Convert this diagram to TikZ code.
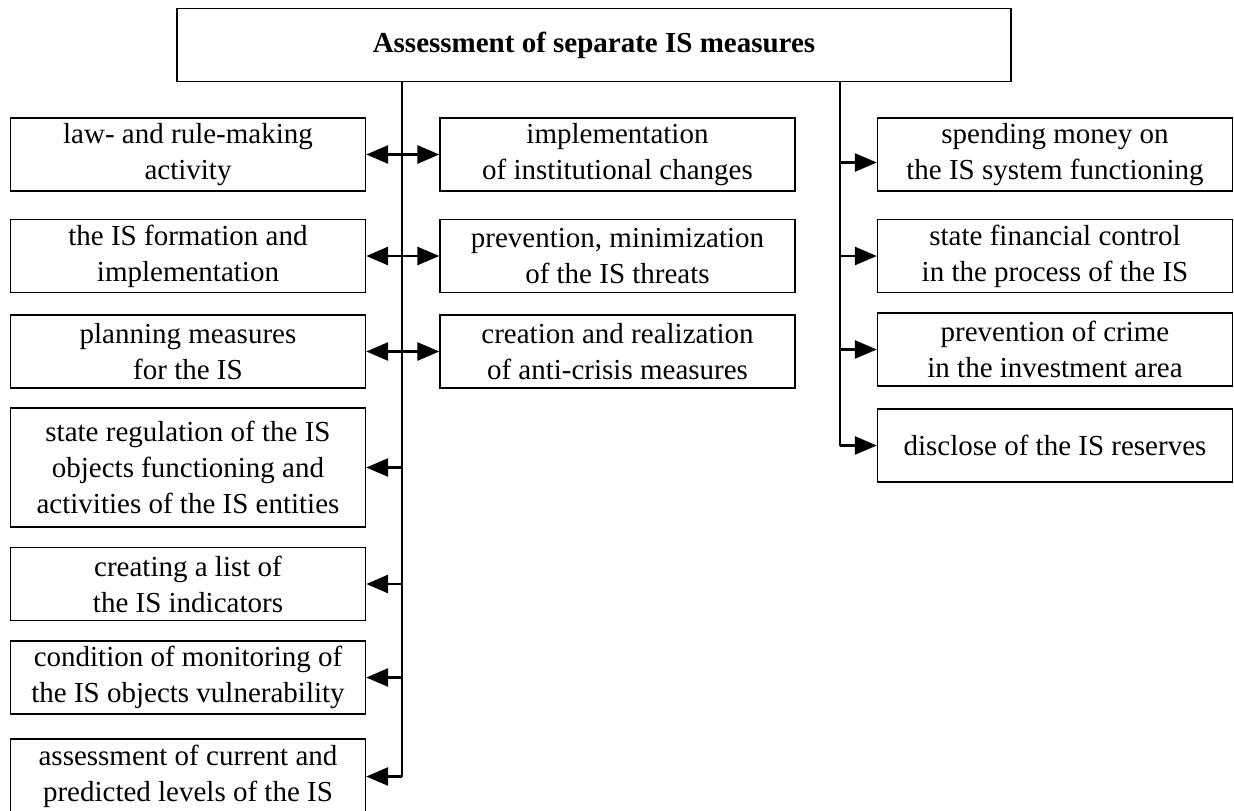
\documentclass[tikz,border=0pt]{standalone}
\usepackage{fontspec}
\setmainfont{Liberation Serif}
\usepackage{tikz}
\usetikzlibrary{arrows.meta}

\begin{document}
\begin{tikzpicture}[x=1pt, y=-1pt,
        box/.style={draw, line width=1.4pt, align=center, inner sep=0pt,
                minimum width=355pt, minimum height=73pt,
                font=\fontsize{29}{36}\selectfont},
        trunk/.style={line width=2.8pt},
        tip/.style={line width=2.8pt, -{Triangle[length=22pt, width=18pt]}},
        tips/.style={line width=2.8pt, {Triangle[length=22pt, width=18pt]}-{Triangle[length=22pt, width=18pt]}}]
                                \useasboundingbox (0, 0) rectangle (1234, 811);

                                \node (top) at (594, 45) [box, minimum width=834pt, font=\fontsize{29}{36}\selectfont\bfseries] {Assessment of separate IS measures};

                                \node (l1) at (188, 154.5) [box] {law- and rule-making\\activity};
                                \node (l2) at (188, 256) [box] {the IS formation and\\implementation};
                                \node (l3) at (188, 351.5) [box] {planning measures\\for the IS};
                                \node (l4) at (188, 467.5) [box, minimum height=119pt] {state regulation of the IS\\objects functioning and\\activities of the IS entities};
                                \node (l5) at (188, 584) [box] {creating a list of\\the IS indicators};
                                \node (l6) at (188, 677.5) [box] {condition of monitoring of\\the IS objects vulnerability};
                                \node (l7) at (188, 776.5) [box, minimum height=75pt] {assessment of current and\\predicted levels of the IS};

                                \node (c1) at (617.5, 154.5) [box] {implementation\\of institutional changes};
                                \node (c2) at (617.5, 256) [box] {prevention, minimization\\of the IS threats};
                                \node (c3) at (617.5, 351.5) [box] {creation and realization\\of anti-crisis measures};

                                \node (r1) at (1055, 154.5) [box] {spending money on\\the IS system functioning};
                                \node (r2) at (1055, 256) [box] {state financial control\\in the process of the IS};
                                \node (r3) at (1055, 349.5) [box] {prevention of crime\\in the investment area};
                                \node (r4) at (1055, 445.5) [box] {disclose of the IS reserves};

                                \coordinate (lb) at (402, 776.5);
                                \coordinate (rb) at (840, 445.5);

                                \draw[trunk] (top.south -| lb) -- (lb);
                                \draw[trunk] (top.south -| rb) -- (rb);

                                \draw[tips] (l1.east) -- (c1.west);
                                \draw[tips] (l2.east) -- (c2.west);
                                \draw[tips] (l3.east) -- (c3.west);
                                \draw[tip] (lb |- l4.east) -- (l4.east);
                                \draw[tip] (lb |- l5.east) -- (l5.east);
                                \draw[tip] (lb |- l6.east) -- (l6.east);
                                \draw[tip] (lb) -- (l7.east);

                                \draw[tip] ([yshift=-8pt]rb |- r1.west) -- ([yshift=-8pt]r1.west);
                                \draw[tip] (rb |- r2.west) -- (r2.west);
                                \draw[tip] (rb |- r3.west) -- (r3.west);
                                \draw[tip] (rb) -- (r4.west);
                            \end{tikzpicture}
\end{document}
